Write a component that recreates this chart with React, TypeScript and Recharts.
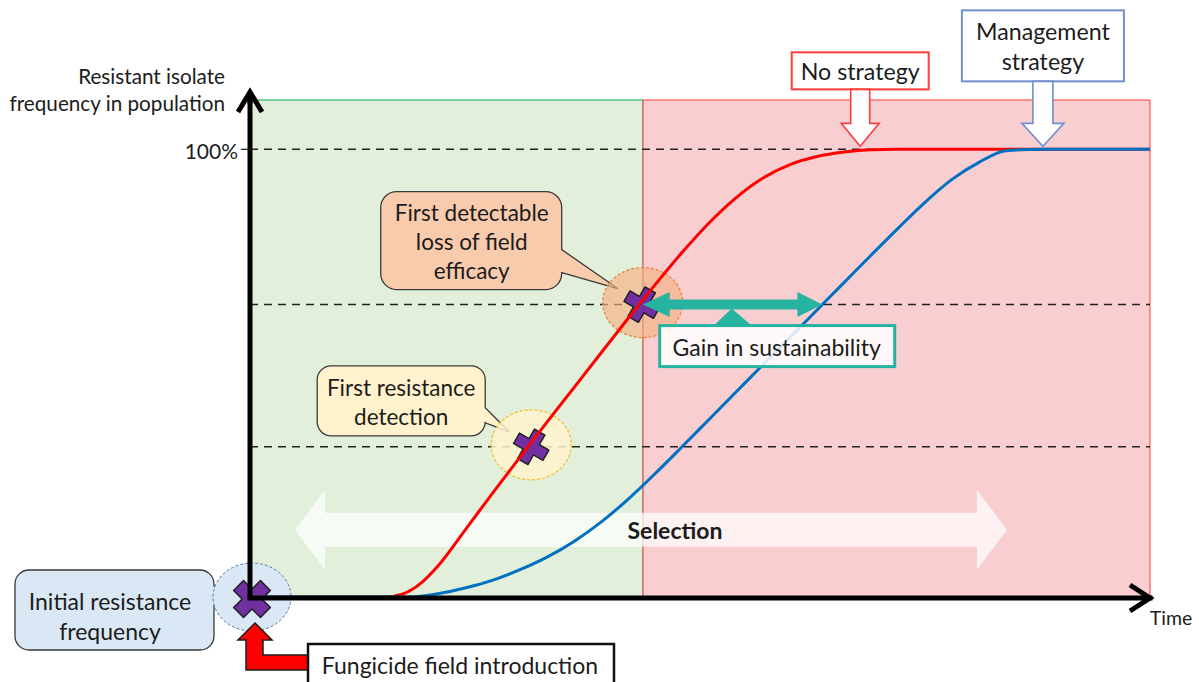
import React from 'react';
import {
  ComposedChart,
  Line,
  XAxis,
  YAxis,
  ReferenceArea,
  ReferenceLine,
  ReferenceDot,
} from 'recharts';

// Time (0-100) and resistant isolate frequency (%)
const time = [0, 5, 10, 15, 17, 19, 21, 24, 27, 30, 33, 36, 39, 42, 45, 48, 51, 54, 57, 60, 63, 66, 69, 72, 75, 78, 81, 84, 88, 92, 96, 100];
const noStrategy = [0.2, 0.2, 0.2, 0.2, 0.9, 3.3, 7.4, 15.4, 23.5, 31.4, 39.2, 46.9, 54.6, 62.3, 69.8, 77.0, 83.6, 89.2, 93.6, 96.6, 98.4, 99.4, 99.9, 100, 100, 100, 100, 100, 100, 100, 100, 100];
const managementStrategy = [0.2, 0.2, 0.2, 0.2, 0.2, 0.4, 1.0, 2.3, 4.0, 6.3, 9.1, 12.6, 16.9, 22.0, 27.7, 33.7, 39.8, 45.9, 52.0, 58.1, 64.2, 70.3, 76.4, 82.4, 88.2, 93.3, 97.1, 99.7, 100, 100, 100, 100];

const yTop = 111;
const fullLevel = 100;
const regionSplit = 43.67;
const detectionLevel = 33.7;
const lossLevel = 65.4;
const detectionTime = 30.8;
const lossTime = 43.3;
const managedLossTime = 63.6;
const noStrategyPlateau = 67.8;
const managedPlateau = 88.1;
const selectionRange = [5, 84.1];
const selectionLevel = 15.2;

const data = time.map((t, i) => ({ t, red: noStrategy[i], blue: managementStrategy[i] }));

const FONT = 'Lato, "Open Sans", sans-serif';
const INK = '#1c1c1c';
const TEAL = '#26b3a0';

const crossPts = (L: number, w: number) =>
  [[-w, -L], [w, -L], [w, -w], [L, -w], [L, w], [w, w], [w, L], [-w, L], [-w, w], [-L, w], [-L, -w], [-w, -w]]
    .map((p) => p.join(','))
    .join(' ');

function Cross({ x, y, L = 17, w = 6, rot = 30 }: any) {
  return (
    <polygon
      points={crossPts(L, w)}
      transform={`translate(${x},${y}) rotate(${rot})`}
      fill="#7030a0"
      stroke={INK}
      strokeWidth={1.4}
      strokeLinejoin="round"
    />
  );
}

// rounded box with a wedge pointer on its right side
function bubblePath(x: number, y: number, w: number, h: number, r: number, b1: number, tx: number, ty: number, b2: number) {
  return [
    `M${x + r},${y}`,
    `H${x + w - r}`,
    `A${r},${r} 0 0 1 ${x + w},${y + r}`,
    `V${b1}`,
    `L${tx},${ty}`,
    `L${x + w},${b2}`,
    `V${y + h - r}`,
    `A${r},${r} 0 0 1 ${x + w - r},${y + h}`,
    `H${x + r}`,
    `A${r},${r} 0 0 1 ${x},${y + h - r}`,
    `V${y + r}`,
    `A${r},${r} 0 0 1 ${x + r},${y}`,
    'Z',
  ].join(' ');
}

function Lines({ x, ys, lines, size = 22, weight = 400, anchor = 'middle' }: any) {
  return (
    <>
      {lines.map((s: string, i: number) => (
        <text
          key={i}
          x={x}
          y={ys[i]}
          textAnchor={anchor}
          dominantBaseline="central"
          fontFamily={FONT}
          fontSize={size}
          fontWeight={weight}
          fill={INK}
        >
          {s}
        </text>
      ))}
    </>
  );
}

const InitialMarker = ({ cx, cy }: any) => (
  <g>
    <path
      d={bubblePath(cx - 235, cy - 28, 199, 80, 14, cy - 12, cx - 25, cy - 3, cy + 8)}
      fill="#dae8f5"
      stroke="#3a3a3a"
      strokeWidth={1.3}
    />
    <Lines x={cx - 140} ys={[cy + 3, cy + 33]} lines={['Initial resistance', 'frequency']} size={23} />
    <ellipse cx={cx + 2} cy={cy - 1} rx={39} ry={34} fill="#dae8f5" stroke="#5078a5" strokeWidth={1} strokeDasharray="3 2" />
    <Cross x={cx + 2} y={cy + 1} L={19} w={7} rot={45} />
    <polygon
      points={[
        [cx + 5, cy + 25], [cx + 22, cy + 42], [cx + 13, cy + 42], [cx + 13, cy + 57], [cx + 60, cy + 57],
        [cx + 60, cy + 72], [cx - 4, cy + 72], [cx - 4, cy + 42], [cx - 12, cy + 42],
      ].map((p) => p.join(',')).join(' ')}
      fill="#ff0000"
      stroke={INK}
      strokeWidth={1.5}
      strokeLinejoin="miter"
    />
    <rect x={cx + 58} y={cy + 46} width={306} height={52} fill="#fff" stroke="#111" strokeWidth={2.5} />
    <Lines x={cx + 210} ys={[cy + 67]} lines={['Fungicide field introduction']} size={23} />
  </g>
);

const DetectionMarker = ({ cx, cy }: any) => (
  <g>
    <path
      d={bubblePath(cx - 210, cy - 81, 168, 70, 14, cy - 39, cx - 18, cy - 15, cy - 24)}
      fill="#fff2cc"
      stroke="#3a3a3a"
      strokeWidth={1.3}
    />
    <Lines x={cx - 126} ys={[cy - 59, cy - 30]} lines={['First resistance', 'detection']} size={22.5} />
    <ellipse cx={cx + 4} cy={cy - 2} rx={40} ry={35} fill="#fff2cc" fillOpacity={0.85} stroke="#f5bd1f" strokeWidth={1.2} strokeDasharray="3 2" />
    <Cross x={cx + 4} y={cy} rot={30} />
  </g>
);

const LossMarker = ({ cx, cy }: any) => (
  <g>
    <path
      d={bubblePath(cx - 259, cy - 113, 181, 98, 16, cy - 55, cx - 22, cy - 16, cy - 32)}
      fill="#f8cbad"
      stroke="#3a3a3a"
      strokeWidth={1.3}
    />
    <Lines x={cx - 168} ys={[cy - 92, cy - 63, cy - 34]} lines={['First detectable', 'loss of field', 'efficacy']} size={22.5} />
    <ellipse cx={cx + 3} cy={cy - 2} rx={40} ry={35} fill="#f4b183" fillOpacity={0.65} stroke="#ed7d31" strokeWidth={1.2} strokeDasharray="3 2" />
    <Cross x={cx + 2} y={cy} rot={30} />
  </g>
);

const StrategyArrow = ({ cx, cy, label, color, boxW, boxH, top, shaft, head }: any) => (
  <g>
    <rect x={cx - boxW / 2} y={cy - top - boxH} width={boxW} height={boxH} fill="#fff" stroke={color} strokeWidth={2} />
    <Lines
      x={cx}
      ys={label.length === 1 ? [cy - top - boxH / 2] : [cy - top - boxH + 21, cy - top - boxH + 51]}
      lines={label}
      size={23.2}
    />
    <polygon
      points={[
        [cx - shaft, cy - top], [cx + shaft, cy - top], [cx + shaft, cy - 26], [cx + head, cy - 26],
        [cx, cy - 3], [cx - head, cy - 26], [cx - shaft, cy - 26],
      ].map((p) => p.join(',')).join(' ')}
      fill="#fff"
      stroke={color}
      strokeWidth={1.6}
    />
  </g>
);

const NoStrategyShape = (p: any) => (
  <StrategyArrow cx={p.cx} cy={p.cy} label={['No strategy']} color="#ff3b3b" boxW={137} boxH={37} top={60} shaft={9.5} head={19} />
);
const ManagementShape = (p: any) => (
  <StrategyArrow cx={p.cx} cy={p.cy} label={['Management', 'strategy']} color="#6f8fd0" boxW={162} boxH={71} top={68} shaft={10} head={21} />
);

const SelectionShape = ({ x1, y1, x2 }: any) => {
  const y = y1;
  const pts = [
    [x1, y], [x1 + 30, y - 40], [x1 + 30, y - 17], [x2 - 30, y - 17], [x2 - 30, y - 40], [x2, y],
    [x2 - 30, y + 40], [x2 - 30, y + 17], [x1 + 30, y + 17], [x1 + 30, y + 40],
  ];
  return (
    <g>
      <polygon points={pts.map((q) => q.join(',')).join(' ')} fill="#ffffff" fillOpacity={0.72} />
      <Lines x={x1 + 380} ys={[y]} lines={['Selection']} size={23} weight={700} />
    </g>
  );
};

const GainShape = ({ x1, y1, x2 }: any) => {
  const y = y1;
  const a = x1 + 3;
  const pts = [
    [a, y], [a + 27, y - 12.5], [a + 27, y - 5], [x2 - 25, y - 5], [x2 - 25, y - 12.5], [x2, y],
    [x2 - 25, y + 12.5], [x2 - 25, y + 5], [a + 27, y + 5], [a + 27, y + 12.5],
  ];
  return (
    <g>
      <polygon points={pts.map((q) => q.join(',')).join(' ')} fill={TEAL} />
      <polygon points={`${x1 + 73},${y + 22} ${x1 + 92},${y + 4} ${x1 + 113},${y + 22}`} fill={TEAL} />
      <rect x={x1 + 20} y={y + 21} width={235} height={41} fill="#ffffff" fillOpacity={0.85} stroke={TEAL} strokeWidth={3} />
      <Lines x={x1 + 137} ys={[y + 42]} lines={['Gain in sustainability']} size={23} />
    </g>
  );
};

const FullTick = ({ cx, cy }: any) => (
  <g>
    <line x1={cx - 9} y1={cy} x2={cx} y2={cy} stroke={INK} strokeWidth={1.2} />
    <Lines x={cx - 12} ys={[cy + 1]} lines={['100%']} size={21} anchor="end" />
  </g>
);

const YArrow = ({ cx, cy }: any) => (
  <g>
    <line x1={cx} y1={cy + 4} x2={cx} y2={cy - 8} stroke="#000" strokeWidth={5} />
    <polyline points={`${cx - 12},${cy + 12} ${cx},${cy - 8} ${cx + 12},${cy + 12}`} fill="none" stroke="#000" strokeWidth={5} />
    <Lines x={cx - 25} ys={[cy - 24, cy + 3]} lines={['Resistant isolate', 'frequency in population']} size={20.7} anchor="end" />
  </g>
);

const XArrow = ({ cx, cy }: any) => (
  <g>
    <line x1={cx - 4} y1={cy} x2={cx} y2={cy} stroke="#000" strokeWidth={5} />
    <polyline points={`${cx - 20},${cy - 13} ${cx},${cy} ${cx - 20},${cy + 13}`} fill="none" stroke="#000" strokeWidth={5} />
    <Lines x={cx + 21} ys={[cy + 19]} lines={['Time']} size={19.5} />
  </g>
);

export default function App() {
  return (
    <div style={{ position: 'absolute', left: 0, top: 0, width: 1199, height: 682, background: '#fff', overflow: 'hidden' }}>
      <ComposedChart
        width={1199}
        height={682}
        data={data}
        margin={{ top: 100, right: 49, bottom: 84, left: 250 }}
        style={{ fontFamily: FONT }}
      >
        <XAxis type="number" dataKey="t" domain={[0, 100]} hide />
        <YAxis type="number" domain={[0, yTop]} hide />
        <ReferenceArea x1={0} x2={regionSplit} y1={0} y2={yTop} fill="#e2efda" fillOpacity={1} stroke="#00b050" strokeWidth={1} zIndex={-200} />
        <ReferenceArea x1={regionSplit} x2={100} y1={0} y2={yTop} fill="#f8ced0" fillOpacity={1} stroke="#ff3b3b" strokeWidth={1} zIndex={-190} />
        {[fullLevel, lossLevel, detectionLevel].map((v) => (
          <ReferenceLine key={v} y={v} stroke="#222" strokeWidth={1.5} strokeDasharray="8 6" zIndex={-100} />
        ))}
        <ReferenceDot x={0} y={0} shape={InitialMarker} zIndex={200} />
        <ReferenceDot x={detectionTime} y={detectionLevel} shape={DetectionMarker} zIndex={200} />
        <ReferenceDot x={lossTime} y={lossLevel} shape={LossMarker} zIndex={200} />
        <ReferenceLine
          segment={[{ x: selectionRange[0], y: selectionLevel }, { x: selectionRange[1], y: selectionLevel }]}
          shape={SelectionShape}
          zIndex={300}
        />
        <Line dataKey="red" type="monotone" stroke="#ff0000" strokeWidth={3} dot={false} activeDot={false} isAnimationActive={false} />
        <Line dataKey="blue" type="monotone" stroke="#0070c0" strokeWidth={3} dot={false} activeDot={false} isAnimationActive={false} />
        <ReferenceLine
          segment={[{ x: lossTime, y: lossLevel }, { x: managedLossTime, y: lossLevel }]}
          shape={GainShape}
          zIndex={700}
        />
        <ReferenceDot x={noStrategyPlateau} y={fullLevel} shape={NoStrategyShape} zIndex={800} />
        <ReferenceDot x={managedPlateau} y={fullLevel} shape={ManagementShape} zIndex={800} />
        <ReferenceLine x={0} stroke="#000" strokeWidth={5} zIndex={900} />
        <ReferenceLine y={0} stroke="#000" strokeWidth={5} strokeLinecap="square" zIndex={900} />
        <ReferenceDot x={0} y={fullLevel} shape={FullTick} zIndex={900} />
        <ReferenceDot x={0} y={yTop} shape={YArrow} zIndex={900} />
        <ReferenceDot x={100} y={0} shape={XArrow} zIndex={900} />
      </ComposedChart>
    </div>
  );
}
